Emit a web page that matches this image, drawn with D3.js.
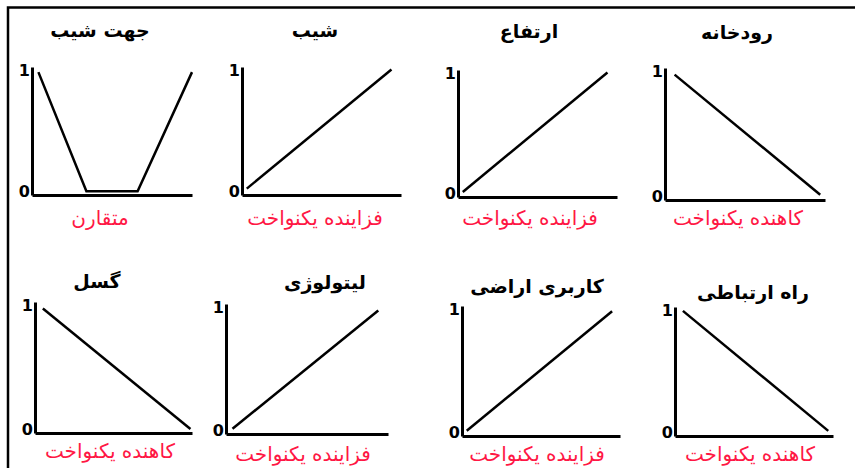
<!DOCTYPE html>
<html>
<head>
<meta charset="utf-8">
<script src="https://cdn.jsdelivr.net/npm/d3@7"></script>
<style>
    body { margin: 0; background: #fff; }
    svg { display: block; }
    text { font-family: "DejaVu Sans", sans-serif; }
</style>
</head>
<body>
<div class="container"></div>
<script>
// membership function panels, read left-to-right, top-to-bottom
const titles = ['جهت شیب', 'شیب', 'ارتفاع', 'رودخانه', 'گسل', 'لیتولوژی', 'کاربری اراضی', 'راه ارتباطی'];
const labels = ['متقارن', 'فزاینده یکنواخت', 'فزاینده یکنواخت', 'کاهنده یکنواخت',
                'کاهنده یکنواخت', 'فزاینده یکنواخت', 'فزاینده یکنواخت', 'کاهنده یکنواخت'];

// x and y of each curve (0..1 on both axes)
const xValues = [
    [0.04, 0.34, 0.66, 1.0],
    [0.03, 0.94],
    [0.03, 0.94],
    [0.06, 0.97],
    [0.05, 0.99],
    [0.04, 0.94],
    [0.03, 0.95],
    [0.05, 0.97],
];
const yValues = [
    [0.96, 0.03, 0.03, 0.96],
    [0.05, 0.98],
    [0.04, 0.98],
    [0.95, 0.04],
    [0.95, 0.03],
    [0.04, 0.95],
    [0.04, 0.96],
    [0.97, 0.04],
];
const yTicks = [0, 1];

const width = 855;
const height = 468;

// axis boxes: [left, right, top, bottom]
const frames = [
    [32, 192, 67, 195],
    [242, 401, 67, 195],
    [458, 617, 70, 197],
    [665, 825, 68, 200],
    [35, 192, 302, 433],
    [226, 388, 304, 434],
    [462, 620, 306, 436],
    [675, 833, 307, 436],
];
// title baselines and label centers
const titlePos = [[100, 37], [315, 37], [529, 38], [737, 39], [97, 288], [325, 289], [537, 293], [753, 299]];
const labelPos = [[100, 225], [315, 225], [530, 225], [738, 225], [110, 458], [303, 461], [537, 461], [750, 461]];

const svg = d3.select('.container')
    .append('svg')
    .attr('width', width)
    .attr('height', height);

// outer frame: top and left edges only
svg.append('path')
    .attr('d', `M8,${height} L8,7.5 L${width},7.5`)
    .attr('fill', 'none')
    .attr('stroke', '#000')
    .attr('stroke-width', 2.5);

titles.forEach((t, i) => {
    const [x0, x1, y0, y1] = frames[i];
    const xscale = d3.scaleLinear().domain([0, 1]).range([x0, x1]);
    const yscale = d3.scaleLinear().domain([0, 1]).range([y1, y0]);

    const g = svg.append('g');

    const yAxis = g.append('g')
        .attr('transform', `translate(${x0},0)`)
        .call(d3.axisLeft(yscale).tickValues(yTicks).tickFormat(d3.format('d')).tickSize(0).tickSizeOuter(0).tickPadding(2));
    yAxis.select('.domain').attr('stroke-width', 3);
    yAxis.selectAll('text')
        .attr('font-family', '"Liberation Sans", Arial, sans-serif')
        .attr('font-size', 16)
        .attr('font-weight', 'bold')
        .attr('fill', '#000')
        .attr('dy', d => d === 0 ? '0.1em' : '0.5em');

    const xAxis = g.append('g')
        .attr('transform', `translate(0,${y1})`)
        .call(d3.axisBottom(xscale).tickValues([]).tickSizeOuter(0));
    xAxis.select('.domain').attr('stroke-width', 3);

    const pts = xValues[i].map((x, j) => [x, yValues[i][j]]);
    g.append('path')
        .datum(pts)
        .attr('fill', 'none')
        .attr('stroke', '#000')
        .attr('stroke-width', 2.5)
        .attr('d', d3.line().x(d => xscale(d[0])).y(d => yscale(d[1])));

    g.append('text')
        .attr('x', titlePos[i][0])
        .attr('y', titlePos[i][1])
        .attr('text-anchor', 'middle')
        .attr('direction', 'rtl')
        .attr('font-size', 19)
        .attr('font-weight', 'bold')
        .text(t);

    g.append('text')
        .attr('x', labelPos[i][0])
        .attr('y', labelPos[i][1])
        .attr('text-anchor', 'middle')
        .attr('direction', 'rtl')
        .attr('font-size', 20)
        .attr('fill', '#ff1744')
        .text(labels[i]);
});
</script>
</body>
</html>
